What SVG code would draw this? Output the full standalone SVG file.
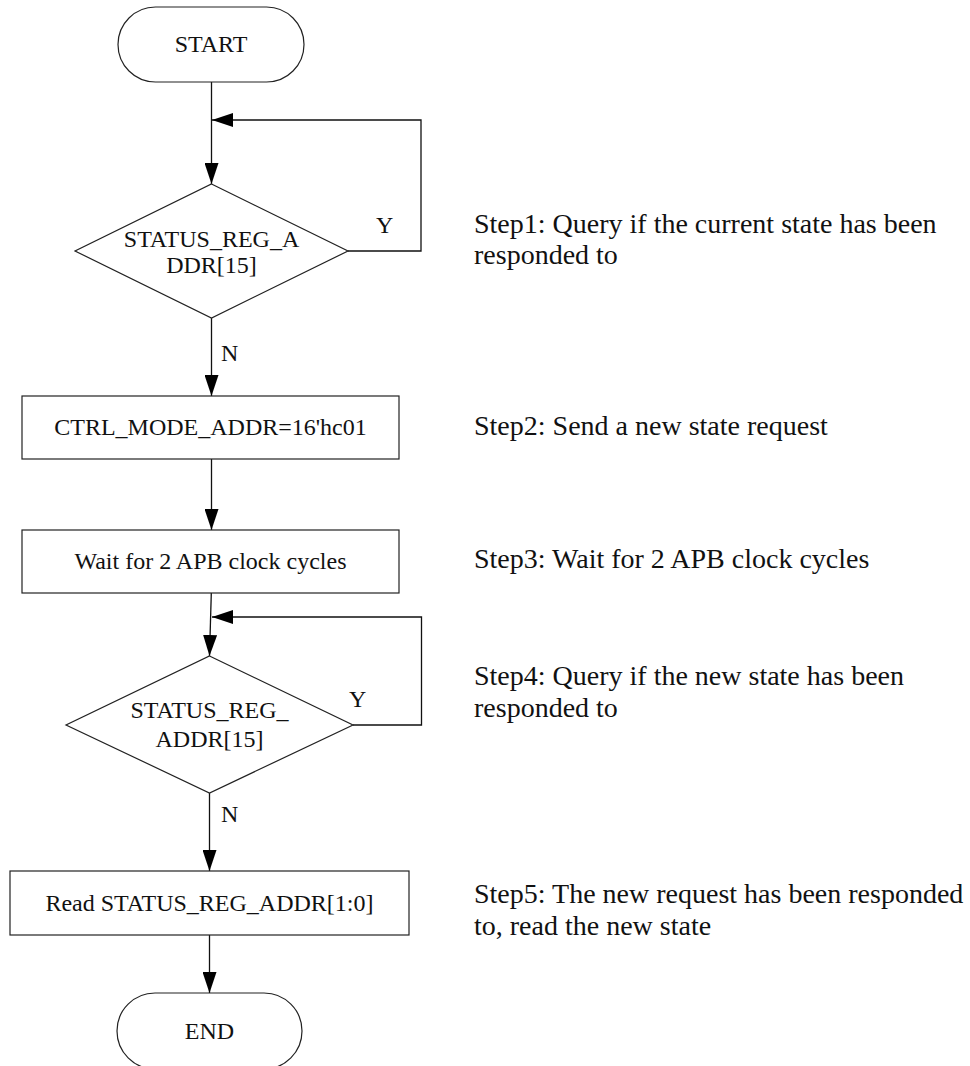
<svg xmlns="http://www.w3.org/2000/svg" width="970" height="1066" viewBox="0 0 970 1066">
<defs>
<style>
.shape{fill:#fff;stroke:#222;stroke-width:1.2}
.conn{fill:none;stroke:#111;stroke-width:1.3}
.t{font-family:"Liberation Serif","Times New Roman",serif;font-size:24px;fill:#111}
.c{text-anchor:middle}
.s{font-family:"Liberation Serif","Times New Roman",serif;font-size:28px;fill:#111}
</style>
<marker id="ah" viewBox="0 0 21 14" refX="21" refY="7" markerWidth="21" markerHeight="14" markerUnits="userSpaceOnUse" orient="auto">
<path d="M0,0 L21,7 L0,14 Z" fill="#000"/>
</marker>
</defs>
<rect width="970" height="1066" fill="#fff"/>
<g id="connectors">
<line class="conn" x1="211.5" y1="82" x2="211.5" y2="184" marker-end="url(#ah)"/>
<polyline class="conn" points="348,251 421,251 421,120 212,120" marker-end="url(#ah)"/>
<line class="conn" x1="211.5" y1="318" x2="211.5" y2="396" marker-end="url(#ah)"/>
<line class="conn" x1="211.5" y1="459" x2="211.5" y2="530" marker-end="url(#ah)"/>
<line class="conn" x1="211.3" y1="593" x2="209.5" y2="656" marker-end="url(#ah)"/>
<polyline class="conn" points="353,725 421.5,725 421.5,617 212,617" marker-end="url(#ah)"/>
<line class="conn" x1="209.5" y1="793" x2="209.5" y2="871" marker-end="url(#ah)"/>
<line class="conn" x1="209.5" y1="935" x2="209.5" y2="993" marker-end="url(#ah)"/>
<text class="t" x="376" y="233">Y</text>
<text class="t" x="221" y="361">N</text>
<text class="t" x="349" y="707">Y</text>
<text class="t" x="221" y="822">N</text>
</g>
<g id="start">
<rect class="shape" x="118" y="7" width="186" height="75" rx="37.5"/>
<text class="t c" x="211" y="52">START</text>
</g>
<g id="decision1">
<polygon class="shape" points="211.5,184 348,251 211.5,318 75,251"/>
<text class="t c" x="211.5" y="247">STATUS_REG_A</text>
<text class="t c" x="211.5" y="273">DDR[15]</text>
</g>
<g id="ctrl">
<rect class="shape" x="22" y="396" width="377" height="63"/>
<text class="t c" x="210.5" y="435">CTRL_MODE_ADDR=16'hc01</text>
</g>
<g id="wait">
<rect class="shape" x="22" y="530" width="377" height="63"/>
<text class="t c" x="210.5" y="569">Wait for 2 APB clock cycles</text>
</g>
<g id="decision2">
<polygon class="shape" points="209.5,656 353,725 209.5,793 66,725"/>
<text class="t c" x="209.5" y="718">STATUS_REG_</text>
<text class="t c" x="209.5" y="747">ADDR[15]</text>
</g>
<g id="read">
<rect class="shape" x="10" y="871" width="399" height="64"/>
<text class="t c" x="209.5" y="911">Read STATUS_REG_ADDR[1:0]</text>
</g>
<g id="end">
<rect class="shape" x="117" y="993" width="185" height="76" rx="38"/>
<text class="t c" x="209.5" y="1039">END</text>
</g>
<g id="notes">
<text class="s" x="474" y="233">Step1: Query if the current state has been</text>
<text class="s" x="474" y="264">responded to</text>
<text class="s" x="474" y="435">Step2: Send a new state request</text>
<text class="s" x="474" y="568">Step3: Wait for 2 APB clock cycles</text>
<text class="s" x="474" y="685">Step4: Query if the new state has been</text>
<text class="s" x="474" y="717">responded to</text>
<text class="s" x="474" y="903">Step5: The new request has been responded</text>
<text class="s" x="474" y="935">to, read the new state</text>
</g>
</svg>
